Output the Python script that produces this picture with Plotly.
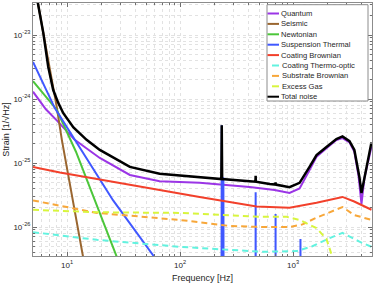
import plotly.graph_objects as go
import math

# ---------------- data ----------------
f_quantum = [5, 6.5, 8.15, 11.7, 19.5, 36, 66, 149, 413, 687, 931, 1143, 1400, 1615, 1977, 2420, 2740, 3160, 3490, 3790, 4035, 4290, 4945]
quantum = [1.3e-24, 6.9e-25, 4.6e-25, 2.3e-25, 1.2e-25, 6.5e-26, 5.2e-26, 4.9e-26, 4.2e-26, 3.8e-26, 3.4e-26, 4.0e-26, 7.8e-26, 1.25e-25, 1.7e-25, 2.28e-25, 2.45e-25, 2.1e-25, 1.5e-25, 6.5e-26, 2.3e-26, 5.9e-26, 1.78e-25]

f_seismic = [5, 5.53, 6.17, 7.3, 8.1, 9.0, 13.8, 16]
seismic = [8.3e-23, 3.2e-23, 1.1e-23, 2.2e-24, 7.6e-25, 2.3e-25, 3.5e-27, 8.5e-28]

f_newtonian = [5, 8.1, 12, 17.7, 27.6, 32]
newtonian = [1.9e-24, 6.8e-25, 1.5e-25, 2.6e-26, 3.4e-27, 1.2e-27]

f_susp = [5, 7.8, 25.6, 58.6, 80, 232, 234, 236, 240, 242, 244, 465, 467, 469, 699, 701, 703, 1160, 1164, 1168, 5000]
susp = [3.8e-24, 7.2e-25, 2.6e-26, 3.5e-27, 1.0e-27, 1e-29, 3.9e-25, 1e-29, 1e-29, 6e-26, 1e-29, 1e-29, 3.5e-26, 1e-29, 1e-29, 1.6e-26, 1e-29, 1e-29, 6.5e-27, 1e-29, 1e-29]

f_coat_br = [5, 8.65, 149, 476, 931, 1615, 2740, 3480, 4945]
coat_br = [8.7e-26, 7.1e-26, 2.95e-26, 2.1e-26, 2.0e-26, 2.4e-26, 2.95e-26, 2.5e-26, 1.86e-26]

f_coat_to = [5, 18.4, 99.5, 275, 538, 1075, 1485, 2190, 2740, 3870, 4945]
coat_to = [8.3e-27, 6.3e-27, 4.9e-27, 4.4e-27, 4.1e-27, 4.2e-27, 5.0e-27, 6.9e-27, 8.1e-27, 5.9e-27, 4.9e-27]

f_sub_br = [5, 18.4, 99.5, 275, 538, 931, 1213, 1615, 2740, 3480, 4945]
sub_br = [2.6e-26, 1.66e-26, 1.29e-26, 1.04e-26, 1.0e-26, 1.0e-26, 1.1e-26, 1.4e-26, 2.05e-26, 1.54e-26, 1.29e-26]

f_gas = [5, 18.4, 99.5, 275, 538, 877, 1143, 1615, 1977, 2230, 2400]
gas = [1.86e-26, 1.7e-26, 1.66e-26, 1.54e-26, 1.44e-26, 1.44e-26, 1.29e-26, 9.6e-27, 6.5e-27, 3.4e-27, 2e-27]

f_total = [5, 5.53, 6.17, 6.82, 7.55, 8.36, 9.27, 11.4, 14.9, 19.5, 36, 66, 149, 232, 234, 236, 413, 465, 467, 469, 621, 699, 701, 703, 931, 1143, 1400, 1615, 1977, 2420, 2740, 3160, 3490, 3870, 4035, 4290, 4945]
total = [8.3e-23, 3.2e-23, 1.07e-23, 3.2e-24, 1.38e-24, 8.7e-25, 6.0e-25, 3.6e-25, 2.3e-25, 1.6e-25, 8.7e-26, 6.8e-26, 6.0e-26, 5.6e-26, 3.9e-25, 5.6e-26, 5.2e-26, 5.1e-26, 6.3e-26, 5.1e-26, 4.7e-26, 4.6e-26, 5.0e-26, 4.6e-26, 4.2e-26, 4.9e-26, 8.7e-26, 1.33e-25, 1.78e-25, 2.37e-25, 2.6e-25, 2.2e-25, 1.6e-25, 6.0e-26, 3.4e-26, 6.0e-26, 2.1e-25]

x_tickvals = [10, 100, 1000]
x_ticktext = ["10<sup>1</sup>", "10<sup>2</sup>", "10<sup>3</sup>"]
y_tickvals = [1e-26, 1e-25, 1e-24, 1e-23]
y_ticktext = ["10<sup>-26</sup>", "10<sup>-25</sup>", "10<sup>-24</sup>", "10<sup>-23</sup>"]

# ---------------- figure ----------------
series = [
    ("Quantum", f_quantum, quantum, "#9b35e6", "solid", 2),
    ("Seismic", f_seismic, seismic, "#9a6630", "solid", 2),
    ("Newtonian", f_newtonian, newtonian, "#4cc63a", "solid", 2),
    ("Suspension Thermal", f_susp, susp, "#4058ff", "solid", 2),
    ("Coating Brownian", f_coat_br, coat_br, "#f2402b", "solid", 2),
    ("Coating Thermo-optic", f_coat_to, coat_to, "#62f2df", "6px,4px", 2),
    ("Substrate Brownian", f_sub_br, sub_br, "#f7a73a", "6px,4px", 2),
    ("Excess Gas", f_gas, gas, "#d8f53e", "6px,4px", 2),
    ("Total noise", f_total, total, "#000000", "solid", 2.5),
]

W, H = 374, 284
ML, MR, MT, MB = 33, 2, 3, 28
PW, PH = W - ML - MR, H - MT - MB

def px(xp):
    return (xp - ML) / PW

def py(yp):
    return 1 - (yp - MT) / PH

fig = go.Figure()
for name, fx, vy, col, dash, w in series:
    fig.add_trace(go.Scatter(x=fx, y=vy, name=name, mode="lines", showlegend=False,
                             hoverinfo="skip", line=dict(color=col, width=w, dash=dash)))

font = "Liberation Sans, Arial, sans-serif"
grid = "#e2e2e2"
tickc = "#6e6e6e"

def axis_common(minor_vals):
    return dict(
        type="log", showline=True, linecolor="#8c8c8c", linewidth=1, mirror="ticks",
        ticks="inside", ticklen=4, tickcolor=tickc, automargin=False,
        showgrid=True, gridcolor=grid, griddash="dot", gridwidth=1,
        minor=dict(tickmode="array", tickvals=minor_vals, ticks="inside", ticklen=2,
                   tickcolor=tickc, showgrid=True, gridcolor=grid, griddash="dot", gridwidth=1),
        zeroline=False, tickfont=dict(family=font, size=8, color="#262626"),
    )

x_minor = [m * 10 ** e for e in range(0, 4) for m in range(2, 10)]
y_minor = [m * 10.0 ** e for e in range(-27, -22) for m in range(2, 10)]

fig.update_layout(
    width=W, height=H,
    margin=dict(l=ML, r=MR, t=MT, b=MB),
    paper_bgcolor="white", plot_bgcolor="white",
    font=dict(family=font, size=8, color="#262626"),
    showlegend=False, hovermode=False,
)
fig.update_xaxes(**axis_common(x_minor), range=[math.log10(5), math.log10(5000)],
                 tickvals=x_tickvals, ticktext=x_ticktext, ticklabelstandoff=1,
                 title=dict(text="Frequency [Hz]", font=dict(family=font, size=9, color="#262626"), standoff=6))
fig.update_yaxes(**axis_common(y_minor), range=[-26.453, -22.5],
                 tickvals=y_tickvals, ticktext=y_ticktext,
                 title=dict(text="Strain [1/\u221aHz]", font=dict(family=font, size=9, color="#262626"), standoff=2))

# ---- legend drawn as a box with line samples and text ----
lx0, lx1, ly0, ly1 = 267, 368, 4.7, 101
fig.add_shape(type="rect", xref="paper", yref="paper", x0=px(lx0), x1=px(lx1), y0=py(ly1), y1=py(ly0),
              line=dict(color="#8c8c8c", width=1), fillcolor="white", layer="above")
for i, (name, fx, vy, col, dash, w) in enumerate(series):
    yy = 13.5 + 10.4 * i
    if dash == "solid":
        sx0, sx1 = 267.5, 279
    else:
        sx0, sx1 = 272, 279
    fig.add_shape(type="line", xref="paper", yref="paper", x0=px(sx0), x1=px(sx1), y0=py(yy), y1=py(yy),
                  line=dict(color=col, width=2), layer="above")
    fig.add_annotation(xref="paper", yref="paper", x=px(280 if dash == "solid" else 281), y=py(yy),
                       xanchor="left", yanchor="middle", text=name, showarrow=False, borderpad=0,
                       font=dict(family=font, size=7.6, color="#262626"))

fig.write_html("out.html", config={"displayModeBar": False, "staticPlot": True},
               post_script="document.body.style.margin='0px';document.body.style.overflow='hidden';")
